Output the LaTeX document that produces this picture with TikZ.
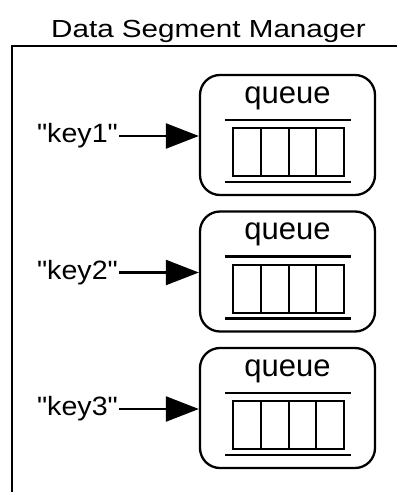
\documentclass[tikz,border=0pt]{standalone}
\usepackage{fontspec}
\setmainfont{Liberation Sans}
\newfontfamily\titlefont[FakeStretch=1.2]{Liberation Sans}
\newfontfamily\keyfont[FakeStretch=1.08]{Liberation Sans}
\usetikzlibrary{arrows.meta}
\begin{document}
\begin{tikzpicture}[x=1pt,y=-1pt,
  line width=2.3pt,
  qbox/.style={draw,rounded corners=20pt,minimum width=175pt,minimum height=120pt,inner sep=0pt},
  qlabel/.style={inner sep=0pt,anchor=base,font=\fontsize{31}{31}\selectfont},
  keylabel/.style={inner sep=0pt,anchor=east,font=\keyfont\fontsize{26.5}{26.5}\selectfont},
  cell/.style={draw,line width=2pt,minimum width=27.75pt,minimum height=48pt,inner sep=0pt},
  link/.style={-{Triangle[length=33pt,width=25pt]},line width=2.3pt}
]
\useasboundingbox (0,0) rectangle (396,492);

% manager frame (only its top and left edges are inside the picture)
\node[inner sep=0pt,anchor=base,font=\titlefont\fontsize{24.7}{24.7}\selectfont] (title) at (208.5,37.7) {Data Segment Manager};
\coordinate (frameBL) at (12,493);
\coordinate (frameTL) at (12,46);
\coordinate (frameTR) at (397,46);
\draw (frameBL) -- (frameTL) -- (frameTR);

% three keyed queues
\foreach \i/\t in {1/75,2/211.5,3/348}{
  \node[qbox] (box\i) at (287.5,\t+60) {};
  \node[qlabel] (q\i) at (287.5,\t+28) {queue};
  \coordinate (top\i L) at (225,\t+45);
  \coordinate (top\i R) at (351,\t+45);
  \coordinate (bot\i L) at (225,\t+107);
  \coordinate (bot\i R) at (351,\t+107);
  \draw (top\i L) -- (top\i R);
  \draw (bot\i L) -- (bot\i R);
  \foreach \c in {0,1,2,3}{
    \node[cell,anchor=north west] (c\i-\c) at (232+27.75*\c,\t+52) {};
  }
  \node[keylabel] (key\i) at (119,\t+61) {"key\i"};
  \draw[link] (key\i.east) -- (box\i.west |- key\i.east);
}
\end{tikzpicture}
\end{document}
